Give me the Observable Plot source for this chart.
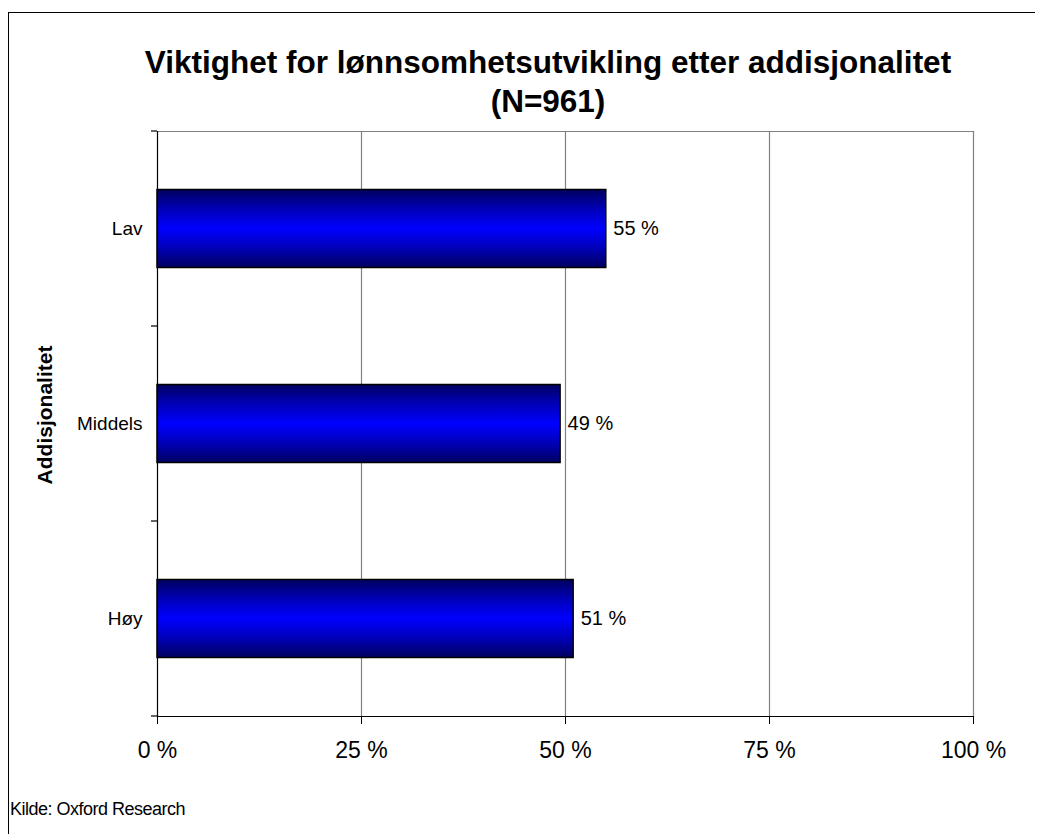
<!DOCTYPE html>
<html>
<head>
<meta charset="utf-8">
<script src="https://cdn.jsdelivr.net/npm/d3@7"></script>
<script src="https://cdn.jsdelivr.net/npm/@observablehq/plot@0.6"></script>
<style>
  html, body { margin: 0; padding: 0; background: #fff; }
  #root { position: relative; width: 1037px; height: 834px; overflow: hidden; font-family: "Liberation Sans", Arial, sans-serif; color: #000; }
  #frame { position: absolute; left: 8px; top: 12px; width: 1026px; height: 840px; border-top: 1px solid #000; border-left: 1px solid #000; }
  .title { position: absolute; left: 0; width: 1096px; text-align: center; font-weight: bold; font-size: 31.5px; line-height: 36px; }
  #ylabel { position: absolute; left: 45px; top: 415px; transform: translate(-50%, -50%) rotate(-90deg); font-weight: bold; font-size: 21px; white-space: nowrap; }
  #caption { position: absolute; left: 10px; top: 799px; font-size: 18px; line-height: 20px; letter-spacing: -0.5px; }
  #chart { position: absolute; left: 0; top: 120px; }
</style>
</head>
<body>
<div id="root">
  <div id="frame"></div>
  <div class="title" style="top:44px">Viktighet for lønnsomhetsutvikling etter addisjonalitet</div>
  <div class="title" style="top:83px">(N=961)</div>
  <div id="ylabel">Addisjonalitet</div>
  <div id="chart"></div>
  <div id="caption">Kilde: Oxford Research</div>
</div>
<script>
const categories = ["Lav", "Middels", "Høy"];
const values = [55, 49.4, 51];
const valueLabels = ["55 %", "49 %", "51 %"];
const xTicks = [0, 25, 50, 75, 100];

const data = categories.map((c, i) => ({cat: c, v: values[i], lab: valueLabels[i]}));

const W = 1037, H = 680;
const plot = Plot.plot({
  width: W,
  height: H,
  marginLeft: 157,
  marginRight: 64,
  marginTop: 11,
  marginBottom: 84,
  style: {fontFamily: '"Liberation Sans", Arial, sans-serif', background: "transparent"},
  x: {domain: [0, 100], ticks: xTicks},
  y: {domain: categories, padding: 0},
  marks: [
    Plot.ruleX(xTicks.slice(1), {stroke: "#808080", strokeWidth: 1.2, strokeOpacity: 1}),
    Plot.frame({anchor: "top", stroke: "#808080", strokeWidth: 1.2}),
    Plot.barX(data, {x: "v", y: "cat", fill: "url(#barGrad)", stroke: "#000", strokeWidth: 1.5, insetTop: 58.5, insetBottom: 58.5}),
    Plot.text(data, {x: "v", y: "cat", text: "lab", textAnchor: "start", dx: 7, fontSize: 20, fill: "#000"}),
    Plot.ruleX([0], {stroke: "#000", strokeWidth: 1.2}),
    Plot.frame({anchor: "bottom", stroke: "#000", strokeWidth: 1.2}),
    Plot.axisX({ticks: xTicks, tickFormat: d => d + " %", tickSize: 8, tickPadding: 17, fontSize: 23, label: null, stroke: "#000"}),
    Plot.axisY({tickSize: 0, tickPadding: 15, fontSize: 19, label: null})
  ]
});

// gradient definition
const svg = d3.select(plot);
const defs = svg.insert("defs", ":first-child");
const grad = defs.append("linearGradient").attr("id", "barGrad").attr("x1", 0).attr("y1", 0).attr("x2", 0).attr("y2", 1);
[[0, "#000060"], [0.25, "#0000b8"], [0.5, "#0000ff"], [0.75, "#0000b8"], [1, "#000060"]].forEach(([o, c]) => {
  grad.append("stop").attr("offset", o).attr("stop-color", c);
});

// category boundary ticks derived from the y scale
const ys = plot.scale("y");
const xs = plot.scale("x");
const bounds = categories.map(c => ys.apply(c)).concat([ys.apply(categories[categories.length - 1]) + ys.bandwidth]);
const x0 = xs.apply(0);
svg.append("g").selectAll("line").data(bounds).join("line")
  .attr("x1", x0 - 6).attr("x2", x0).attr("y1", d => d).attr("y2", d => d)
  .attr("stroke", "#000").attr("stroke-width", 1.2);

document.getElementById("chart").appendChild(plot);
</script>
</body>
</html>
